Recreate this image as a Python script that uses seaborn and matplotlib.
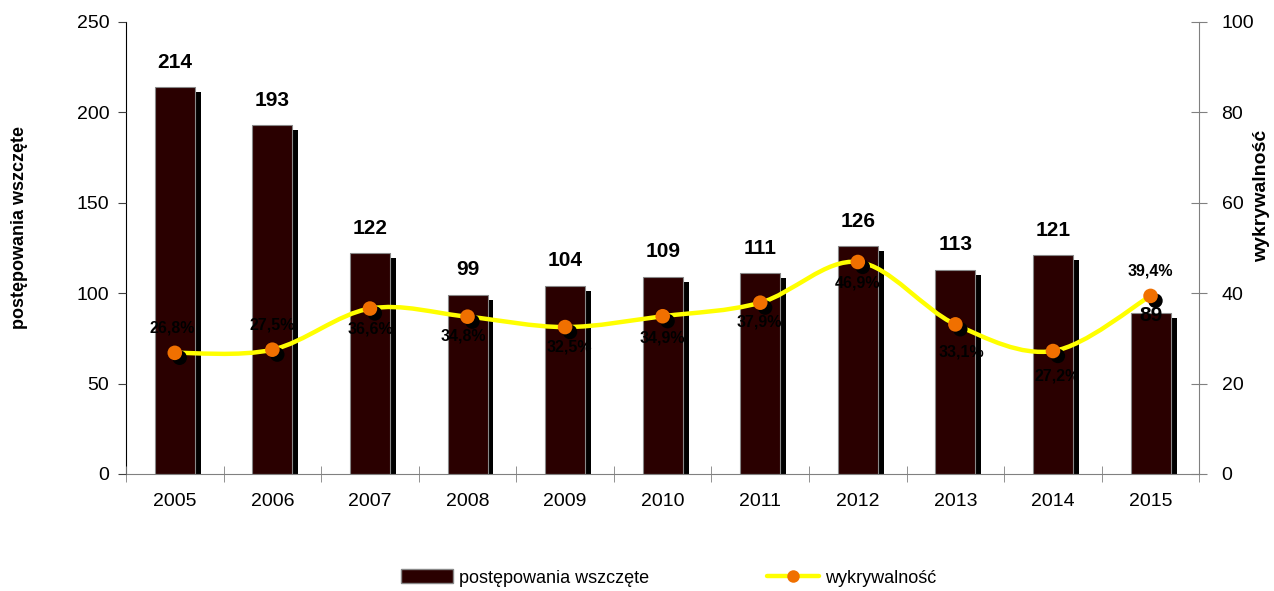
import numpy as np
import pandas as pd
import seaborn as sns
import matplotlib.pyplot as plt
import matplotlib.patheffects as pe
from matplotlib.path import Path
from matplotlib.patches import PathPatch, Patch
from matplotlib.lines import Line2D

years = ["2005", "2006", "2007", "2008", "2009", "2010",
         "2011", "2012", "2013", "2014", "2015"]
cases = [214, 193, 122, 99, 104, 109, 111, 126, 113, 121, 89]
detection = [26.8, 27.5, 36.6, 34.8, 32.5, 34.9, 37.9, 46.9, 33.1, 27.2, 39.4]
pct_labels = ["26,8%", "27,5%", "36,6%", "34,8%", "32,5%", "34,9%",
              "37,9%", "46,9%", "33,1%", "27,2%", "39,4%"]

# label offsets in points (style only)
pct_offsets = [(-2, 18), (0, 18), (0, -15), (-3, -14), (3, -14), (0, -16),
               (-1, -14), (0, -15), (4, -20), (3, -18), (0, 18)]
bar_offsets = [18] * 10 + [-2]

sns.set_style("white", {"axes.axisbelow": False})
plt.rcParams["font.family"] = ["Liberation Sans", "DejaVu Sans"]
plt.rcParams["text.color"] = "black"
plt.rcParams["axes.labelcolor"] = "black"
plt.rcParams["xtick.color"] = "black"
plt.rcParams["ytick.color"] = "black"

bar_color = "#2a0000"
df = pd.DataFrame({"rok": years, "sprawy": cases, "wykr": detection})

fig = plt.figure(figsize=(12.74, 5.91), dpi=100)
ax = fig.add_axes([0.0989, 0.198, 0.8425, 0.7648])

sns.barplot(data=df, x="rok", y="sprawy", color=bar_color, saturation=1,
            width=0.41, edgecolor="#888888", linewidth=0.8, ax=ax, zorder=2)
for p in ax.patches:
    p.set_path_effects([pe.SimplePatchShadow(offset=(4.3, -3.6),
                                             shadow_rgbFace="black", alpha=1.0),
                        pe.Normal()])

ax.set_xlim(-0.5, len(years) - 0.5)
ax.set_ylim(0, 250)
ax.set_yticks(range(0, 251, 50))
ax.set_xlabel("")
ax.set_ylabel("postępowania wszczęte", fontsize=13, fontweight="bold", va="center")
ax.yaxis.set_label_coords(-0.099, 0.545)

for i, v in enumerate(cases):
    ax.annotate(str(v), (i, v), xytext=(0, bar_offsets[i]), textcoords="offset points",
                ha="center", va="center", fontsize=15, fontweight="bold")

ax2 = ax.twinx()
ax2.set_ylim(0, 100)
ax2.set_yticks(range(0, 101, 20))

# smoothed line (Catmull-Rom style bezier through the data points)
xs = np.arange(len(detection), dtype=float)
ys = np.array(detection, dtype=float)
verts = [(xs[0], ys[0])]
codes = [Path.MOVETO]
n = len(xs)
for i in range(n - 1):
    x0, y0 = (xs[i - 1], ys[i - 1]) if i > 0 else (xs[i], ys[i])
    x3, y3 = (xs[i + 2], ys[i + 2]) if i + 2 < n else (xs[i + 1], ys[i + 1])
    c1 = (xs[i] + (xs[i + 1] - x0) / 6, ys[i] + (ys[i + 1] - y0) / 6)
    c2 = (xs[i + 1] - (x3 - xs[i]) / 6, ys[i + 1] - (y3 - ys[i]) / 6)
    verts += [c1, c2, (xs[i + 1], ys[i + 1])]
    codes += [Path.CURVE4] * 3
ax2.add_patch(PathPatch(Path(verts, codes), facecolor="none",
                        edgecolor="#ffff00", linewidth=3.2, zorder=3))

sns.scatterplot(x=xs, y=ys, color="#f07000", s=110, edgecolor="none",
                ax=ax2, zorder=4, legend=False)
for c in ax2.collections:
    c.set_path_effects([pe.SimplePatchShadow(offset=(3.5, -3.5),
                                             shadow_rgbFace="black", alpha=1.0),
                        pe.Normal()])

for i, lab in enumerate(pct_labels):
    ax2.annotate(lab, (xs[i], ys[i]), xytext=pct_offsets[i], textcoords="offset points",
                 ha="center", va="center", fontsize=11.5, fontweight="bold", color="black")

ax2.set_ylabel("wykrywalność", fontsize=14, fontweight="bold", rotation=90, va="center")
ax2.yaxis.set_label_coords(1.058, 0.615)

# spines and ticks
ax.spines["top"].set_visible(False)
ax2.spines["top"].set_visible(False)
ax.spines["left"].set_color("black")
ax.spines["bottom"].set_color("#808080")
ax2.spines["left"].set_visible(False)
ax2.spines["bottom"].set_visible(False)
ax2.spines["right"].set_color("#808080")
ax.spines["right"].set_visible(False)

ax.set_xticks(np.arange(-0.5, len(years), 1.0), minor=True)
ax.tick_params(axis="x", which="major", length=0, labelsize=14, pad=14)
ax.tick_params(axis="x", which="minor", length=12, direction="inout", color="#808080", bottom=True)
ax.tick_params(axis="y", direction="out", length=6, labelsize=14, color="#404040", left=True, pad=6)
ax2.tick_params(axis="y", direction="inout", length=12, labelsize=14, color="#808080", right=True, pad=10)

handles = [Patch(facecolor=bar_color, edgecolor="#888888", label="postępowania wszczęte"),
           Line2D([0], [0], color="#ffff00", lw=3.2, marker="o", markersize=9,
                  markerfacecolor="#f07000", markeredgecolor="none", label="wykrywalność")]
fig.legend(handles=handles, loc="center", bbox_to_anchor=(0.5247, 0.022), ncol=2,
           frameon=False, fontsize=13, handlelength=2.9, handleheight=0.8,
           columnspacing=6.5, handletextpad=0.33)

fig.savefig("out.png", dpi=100)
